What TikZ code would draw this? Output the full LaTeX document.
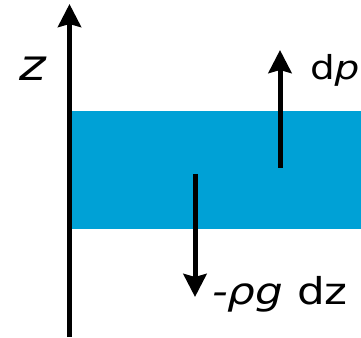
\documentclass[tikz,border=0pt]{standalone}
\usepackage{graphicx}
\usepackage{fontspec}
\setmainfont{DejaVu Sans}
\usetikzlibrary{arrows.meta}
\definecolor{layerblue}{RGB}{0,161,214}
\newcommand{\widetext}[1]{\scalebox{1.18}[1]{#1}}
\tikzset{
  arr/.style={line width=5pt,-{Stealth[length=23pt,width=23pt,inset=3pt]}},
  lbl/.style={anchor=base west,inner sep=0pt,outer sep=0pt}
}
\begin{document}
\begin{tikzpicture}[x=1pt,y=1pt]
\useasboundingbox (0,0) rectangle (361,337);
\fill[layerblue] (72,108) rectangle (361,226);
\coordinate (axb) at (69.5,0);
\coordinate (axt) at (69.5,333);
\draw[arr] (axb) -- (axt);
\coordinate (ub) at (280,169);
\coordinate (ut) at (280,287);
\draw[arr] (ub) -- (ut);
\coordinate (db) at (195,163);
\coordinate (dt) at (195,40);
\draw[arr] (db) -- (dt);
\node[lbl,font=\fontsize{43}{48}\selectfont] (zl) at (19,256) {\widetext{\itshape z}};
\node[lbl,font=\fontsize{33}{38}\selectfont] (dpl) at (310,257) {\widetext{d\textit{p}}};
\node[lbl,font=\fontsize{37}{42}\selectfont] (rl) at (212,32) {\widetext{\textit{-ρg} dz}};
\end{tikzpicture}
\end{document}
